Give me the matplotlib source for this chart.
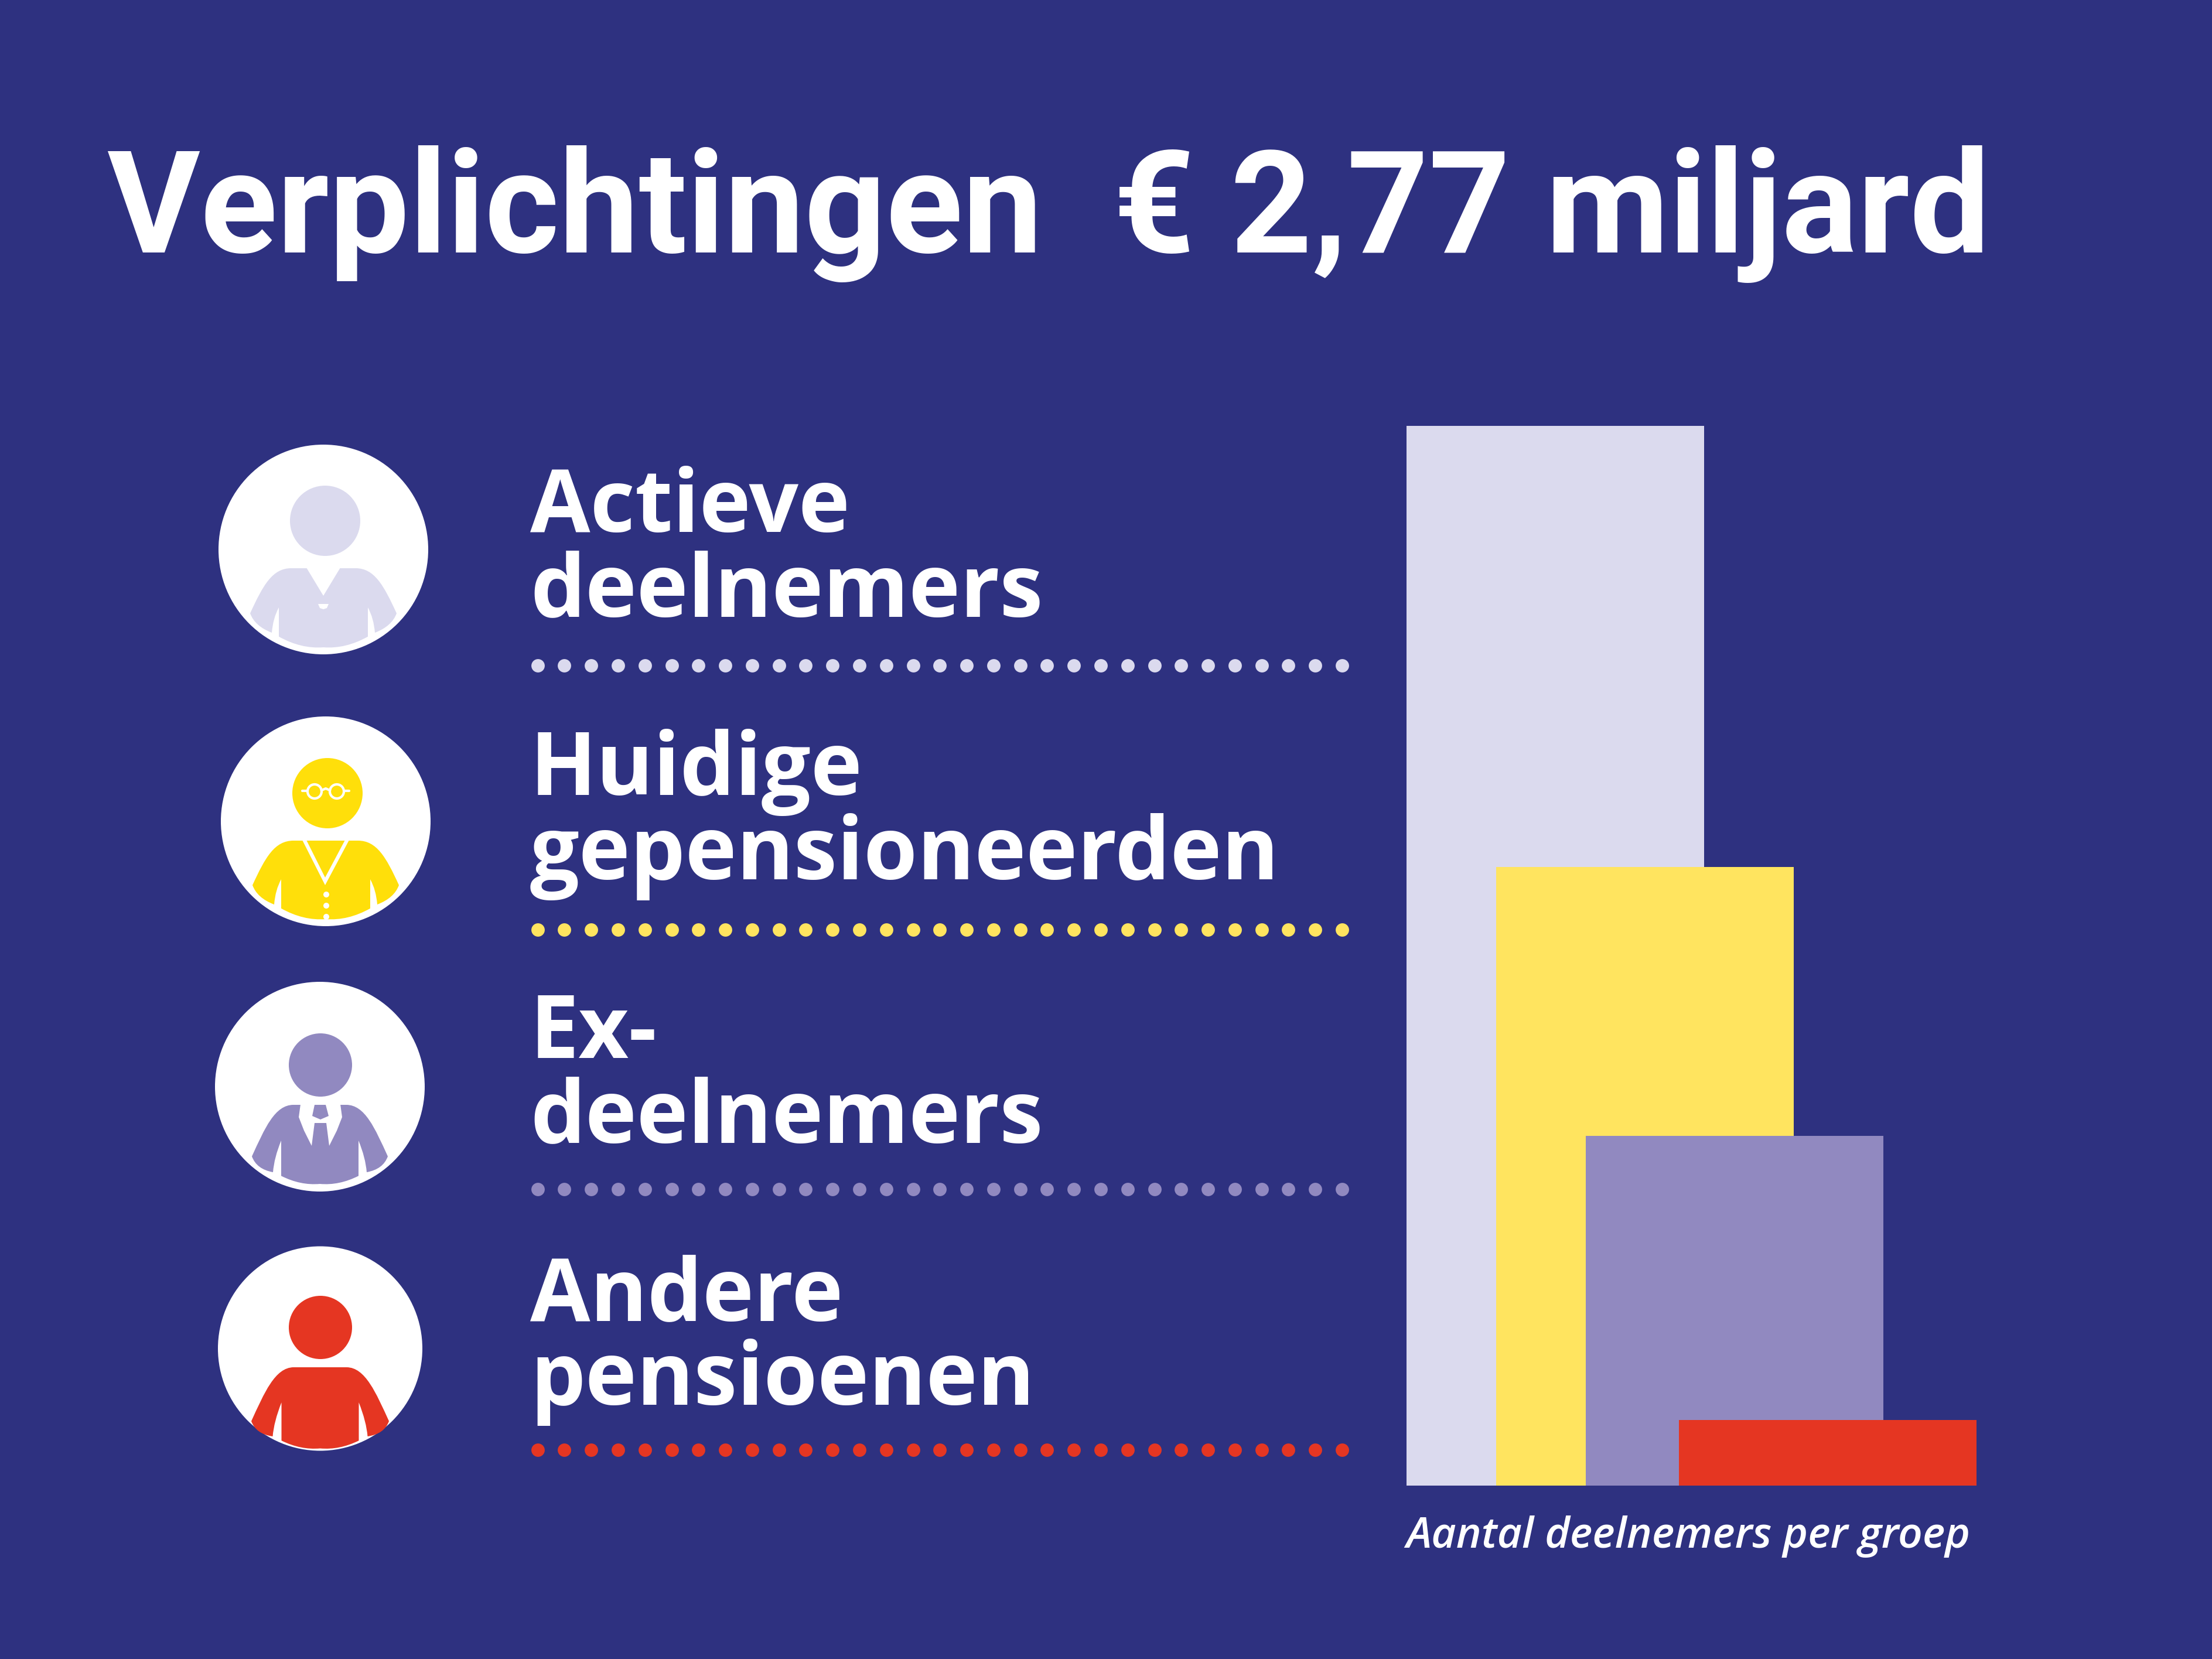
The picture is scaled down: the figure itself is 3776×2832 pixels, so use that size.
import matplotlib
matplotlib.use("Agg")
import matplotlib.pyplot as plt
import numpy as np
from matplotlib.patches import Circle, PathPatch, Polygon
from matplotlib.path import Path

# bar heights, % of the largest group (no scale in the picture)
groups = ["Actieve deelnemers", "Huidige gepensioneerden", "Ex-deelnemers", "Andere pensioenen"]
group_share = [100.0, 58.4, 33.0, 6.2]
bar_start = [0.0, 0.302, 0.603, 0.916]
label_lines = [["Actieve", "deelnemers"], ["Huidige", "gepensioneerden"],
               ["Ex-", "deelnemers"], ["Andere", "pensioenen"]]
title = "Verplichtingen  € 2,77 miljard"
caption = "Aantal deelnemers per groep"

BG = "#2E3180"
bar_colors = ["#DBDAEE", "#FFE45F", "#9189C0", "#E53622"]
icon_colors = ["#DBDAEE", "#FFDF0A", "#9189C0", "#E53622"]

W, H = 3776, 2832
fig = plt.figure(figsize=(W / 100, H / 100), dpi=100, facecolor=BG)
ax = fig.add_axes([0, 0, 1, 1])
ax.set_xlim(0, W)
ax.set_ylim(H, 0)
ax.axis("off")

# bars get their own axes, scaled by the values
bx = fig.add_axes([2401 / W, 1 - 2536 / H, 974 / W, 1809 / H])
bx.bar(bar_start, group_share, width=1.0, align="edge", color=bar_colors, linewidth=0)
bx.set_xlim(0, 974 / 508)
bx.set_ylim(0, 100)
bx.axis("off")


def body(cx, cy, top, sh, outer, inner, slit, slit_top, r, color):
    # torso with arms, bottom follows a circle inside the white disc
    ox, oy = outer
    ix, iy = inner
    slit_bot = np.sqrt(r**2 - slit**2)
    verts = [(-ox, oy), (-ox + 22, oy - 48), (-sh - 32, top), (-sh, top), (sh, top),
             (sh + 32, top), (ox - 22, oy - 48), (ox, oy),
             (ox - 8, oy + 22), (ix, iy),
             (ix - 2, iy - 25), (slit, slit_top), (slit, slit_bot),
             (slit / 2, r + 3), (0, r), (-slit / 2, r + 3), (-slit, slit_bot),
             (-slit, slit_top), (-ix + 2, iy - 25), (-ix, iy),
             (-ox + 8, oy + 22), (-ox, oy), (-ox, oy)]
    codes = [Path.MOVETO, Path.CURVE4, Path.CURVE4, Path.CURVE4, Path.LINETO,
             Path.CURVE4, Path.CURVE4, Path.CURVE4,
             Path.CURVE3, Path.CURVE3,
             Path.CURVE3, Path.CURVE3, Path.LINETO,
             Path.CURVE3, Path.CURVE3, Path.CURVE3, Path.CURVE3,
             Path.LINETO, Path.CURVE3, Path.CURVE3,
             Path.CURVE3, Path.CURVE3, Path.CLOSEPOLY]
    pts = np.array(verts, dtype=float) + [cx, cy]
    ax.add_patch(PathPatch(Path(pts, codes), fc=color, ec="none"))


def poly(cx, cy, pts, color):
    ax.add_patch(Polygon(np.array(pts, dtype=float) + [cx, cy], closed=True, fc=color, ec="none"))


def icon(i, cx, cy, r, head, head_r, top, sh, outer, inner, slit, slit_top, inset):
    color = icon_colors[i]
    ax.add_patch(Circle((cx, cy), r, fc="white", ec="none"))
    ax.add_patch(Circle((cx + head[0], cy + head[1]), head_r, fc=color, ec="none"))
    body(cx, cy, top, sh, outer, inner, slit, slit_top, r - inset, color)


# 1: open neck with pocket
icon(0, 552, 938, 179, (3, -49), 60, 32, 55, (125, 109), (88, 142), 76, 99, 12)
poly(552, 938, [(-29, 31), (0, 79), (29, 31)], "white")
poly(552, 938, [(-9, 93), (9, 93), (6, 100), (0, 102), (-6, 100)], "white")

# 2: cardigan, buttons, glasses
icon(1, 556, 1402, 179, (3, -48), 60, 33, 55, (125, 109), (88, 142), 76, 99, 12)
poly(556, 1402, [(-40, 32), (-1, 109), (40, 32), (33, 32), (-1, 96), (-33, 32)], "white")
for by in [125, 144, 163]:
    ax.add_patch(Circle((557, 1402 + by), 5, fc="white", ec="none"))
for lx in [-19, 19]:
    ax.add_patch(Circle((556 + lx, 1351), 12, fc="none", ec="white", lw=3))
ax.plot([556 - 40, 556 - 31], [1350, 1350], color="white", lw=3, solid_capstyle="round")
ax.plot([556 + 31, 556 + 40], [1350, 1350], color="white", lw=3, solid_capstyle="round")
ax.plot([556 - 7, 556, 556 + 7], [1349, 1346, 1349], color="white", lw=3)

# 3: collar and tie
icon(2, 546, 1855, 179, (1, -37), 54, 31, 45, (116, 119), (80, 146), 66, 92, 13)
collar = [(-33, 30), (-36, 52), (-27, 75), (-14, 101), (-9, 62), (11, 62), (16, 101), (29, 75), (38, 52), (35, 30)]
poly(546, 1855, collar, "white")
poly(546, 1855, [(-9, 31), (10, 31), (15, 50), (1, 56), (-13, 50)], icon_colors[2])

# 4: plain
icon(3, 546.5, 2302, 174.5, (0.5, -36), 54, 32, 45, (117.5, 124), (81, 150), 66, 92, 4)

# labels and dotted rules
label_y = [(908, 1052), (1357, 1501), (1806, 1950), (2254, 2398)]
rule_y = [1136, 1587, 2030, 2475]
dot_x = np.linspace(917.6, 2291, 31)
for i, lines in enumerate(label_lines):
    for line, y in zip(lines, label_y[i]):
        ax.text(905, y, line, color="white", fontsize=107, fontweight="bold",
                family="Open Sans", va="baseline", ha="left")
    ax.scatter(dot_x, np.full(31, rule_y[i]), s=270, color=bar_colors[i], linewidths=0)

ax.text(183, 431, title, color="white", fontsize=175, fontweight="bold",
        family="Roboto", va="baseline", ha="left")
ax.text(2400, 2642, caption, color="white", fontsize=52.7, style="italic", fontweight="semibold",
        family="Open Sans", va="baseline", ha="left")

fig.savefig("out.png", dpi=100, facecolor=BG)
